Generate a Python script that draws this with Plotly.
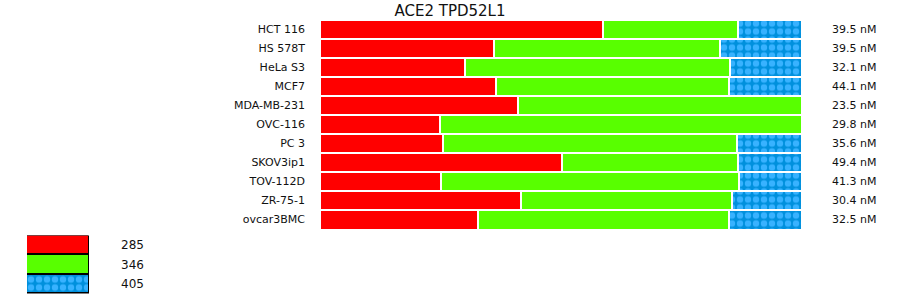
import plotly.graph_objects as go

title = "ACE2 TPD52L1"
cell_lines = ["HCT 116", "HS 578T", "HeLa S3", "MCF7", "MDA-MB-231", "OVC-116",
              "PC 3", "SKOV3ip1", "TOV-112D", "ZR-75-1", "ovcar3BMC"]
series_names = ["285", "346", "405"]
red_vals = [58.8, 36.0, 30.0, 36.6, 41.0, 24.8, 25.6, 50.3, 25.2, 41.6, 32.7]
green_vals = [28.0, 46.9, 55.0, 48.2, 59.0, 75.2, 61.0, 36.5, 61.8, 43.8, 52.1]
blue_vals = [13.2, 17.1, 15.0, 15.2, 0.0, 0.0, 13.4, 13.2, 13.0, 14.6, 15.2]
conc_labels = ["39.5 nM", "39.5 nM", "32.1 nM", "44.1 nM", "23.5 nM", "29.8 nM",
               "35.6 nM", "49.4 nM", "41.3 nM", "30.4 nM", "32.5 nM"]

W, H = 900, 299
FONT = "DejaVu Sans, Verdana, sans-serif"
RED = "#FF0000"
GREEN = "#58FF00"
BLUE_BG = "#0090DD"
BLUE_FG = "#38B2FF"

def px_x(p):
    return p / W

def px_y(p):
    return 1 - p / H

fig = go.Figure()

series = [(series_names[0], red_vals, dict(color=RED)),
          (series_names[1], green_vals, dict(color=GREEN)),
          (series_names[2], blue_vals, dict(color=BLUE_BG,
                                             pattern=dict(shape=".", fgcolor=BLUE_FG, bgcolor=BLUE_BG,
                                                          size=8, solidity=0.5, fillmode="replace")))]

for name, vals, mk in series:
    m = dict(mk)
    m["line"] = dict(color="white", width=2)
    fig.add_trace(go.Bar(y=cell_lines, x=vals, orientation="h", name=name, marker=m,
                         showlegend=False, hoverinfo="x+y", xaxis="x", yaxis="y"))

# legend drawn as bars on a small separate axis (numeric positions 0,1,2)
for i, (name, vals, mk) in enumerate(series):
    m = dict(mk)
    m["line"] = dict(color="black", width=1.5)
    fig.add_trace(go.Bar(y=[i], x=[1], base=[0], width=[1], orientation="h", name=name,
                         marker=m, showlegend=False, hoverinfo="skip",
                         xaxis="x2", yaxis="y2"))

annotations = []
for cl, lab in zip(cell_lines, conc_labels):
    annotations.append(dict(x=px_x(830), y=cl, xref="paper", yref="y", text=lab,
                            showarrow=False, xanchor="left", yanchor="middle",
                            font=dict(family=FONT, size=11, color="#111")))
for i, name in enumerate(series_names):
    annotations.append(dict(x=px_x(119), y=i, xref="paper", yref="y2", text=name,
                            showarrow=False, xanchor="left", yanchor="middle",
                            font=dict(family=FONT, size=12, color="#111")))

fig.update_layout(
    width=W, height=H,
    margin=dict(l=0, r=0, t=0, b=0),
    paper_bgcolor="white", plot_bgcolor="white",
    barmode="stack", bargap=0,
    title=dict(text=title, x=0.5, xanchor="center", y=px_y(10.5), yanchor="middle",
               font=dict(family=FONT, size=15, color="#111")),
    xaxis=dict(domain=[px_x(320), px_x(802)], range=[0, 100], visible=False, fixedrange=True),
    yaxis=dict(type="category", domain=[px_y(229), px_y(19.5)], autorange="reversed",
               showgrid=False, zeroline=False, showline=False, ticks="", ticklabelstandoff=14,
               tickfont=dict(family=FONT, size=11, color="#111"), fixedrange=True),
    xaxis2=dict(domain=[px_x(27), px_x(89)], range=[0, 1], visible=False, anchor="y2",
                fixedrange=True),
    yaxis2=dict(type="linear", domain=[px_y(293.5), px_y(235.5)], range=[2.5, -0.5],
                autorange=False, visible=False, anchor="x2", fixedrange=True),
    annotations=annotations,
    showlegend=False,
)

fig.write_html("out.html")
